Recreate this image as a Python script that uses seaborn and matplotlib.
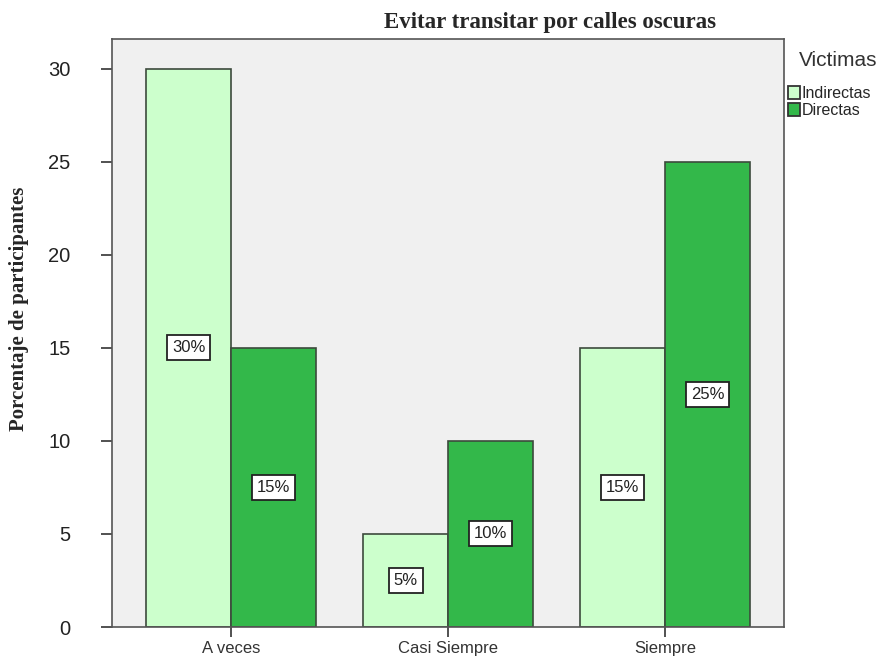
import matplotlib.pyplot as plt
import pandas as pd
import seaborn as sns
from matplotlib.patches import Patch

categorias = ["A veces", "Casi Siempre", "Siempre"]
indirectas = [30, 5, 15]
directas = [15, 10, 25]
grupos = ["Indirectas", "Directas"]

df = pd.DataFrame({
    "Respuesta": categorias * 2,
    "Porcentaje": indirectas + directas,
    "Victimas": [grupos[0]] * 3 + [grupos[1]] * 3,
})

sns.set_theme(style="white")
plt.rcParams["font.family"] = ["Liberation Sans", "DejaVu Sans"]

fig = plt.figure(figsize=(8.77, 6.56), dpi=100)
ax = fig.add_axes([0.1277, 0.0442, 0.7663, 0.8963])

colores = {"Indirectas": "#ccffcc", "Directas": "#33b84a"}
sns.barplot(data=df, x="Respuesta", y="Porcentaje", hue="Victimas",
            order=categorias, hue_order=grupos, palette=colores,
            saturation=1, width=0.78, edgecolor="#3c4a3c", linewidth=1.2,
            ax=ax, legend=False)

ax.set_facecolor("#f0f0f0")
ax.set_xlim(-0.548, 2.548)
ax.set_ylim(0, 31.6)
ax.set_yticks([0, 5, 10, 15, 20, 25, 30])
for s in ax.spines.values():
    s.set_color("#555555")
    s.set_linewidth(1.2)
ax.tick_params(axis="both", direction="out", width=1.2,
               color="#333333", left=True, bottom=True)
ax.tick_params(axis="y", length=8, labelsize=14.5, pad=22,
               labelcolor="#222222")
ax.tick_params(axis="x", length=7, labelsize=12, pad=3,
               labelcolor="#333333")
ax.set_xlabel("")
ax.set_ylabel("")

# etiquetas en el centro de cada barra
for cont in ax.containers:
    for bar in cont:
        h = bar.get_height()
        ax.text(bar.get_x() + bar.get_width() / 2, h / 2, f"{h:.0f}%",
                ha="center", va="center", fontsize=12, color="#222222",
                bbox=dict(boxstyle="square,pad=0.3", fc="white",
                          ec="#222222", lw=1.3))

fig.text(0.627, 0.966, "Evitar transitar por calles oscuras",
         ha="center", va="center", fontsize=16.5, fontweight="bold",
         family=["Liberation Serif", "DejaVu Serif"])
fig.text(0.022, 0.53, "Porcentaje de participantes", rotation=90,
         ha="center", va="center", fontsize=15, fontweight="bold",
         family=["Liberation Serif", "DejaVu Serif"])

fig.text(838 / 877, 1 - 60 / 656, "Victimas", ha="center", va="center",
         fontsize=15, color="#333333")
handles = [Patch(facecolor=colores[g], edgecolor="#333333", lw=1.3)
           for g in grupos]
leg = fig.legend(handles, grupos, loc="upper left",
                 bbox_to_anchor=(786 / 877, 1 - 84 / 656), frameon=False,
                 fontsize=11.5, handlelength=0.8, handleheight=0.9,
                 handletextpad=0.1, labelspacing=0.15, borderpad=0.1,
                 borderaxespad=0)

fig.savefig("out.png", dpi=100)
